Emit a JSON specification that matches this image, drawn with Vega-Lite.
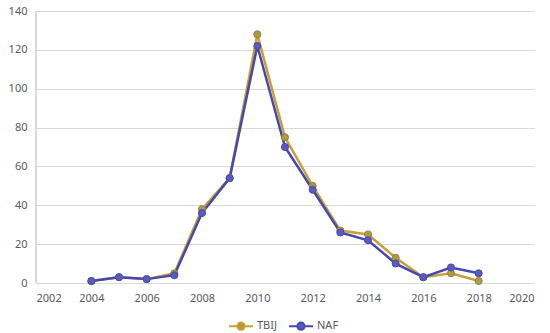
{
  "$schema": "https://vega.github.io/schema/vega-lite/v6.json",
  "autosize": "none",
  "width": 498,
  "height": 272,
  "padding": {"left": 36, "top": 11, "right": 16, "bottom": 50},
  "background": "white",
  "config": {
    "view": {"stroke": null},
    "font": "Noto Sans",
    "axis": {"labelFont": "Noto Sans", "labelFontSize": 11, "labelColor": "#595959", "ticks": false, "domain": false, "gridColor": "#d9d9d9", "gridWidth": 1}
  },
  "data": {"values": [
    {"year": 2004, "series": "TBIJ", "value": 1},
    {"year": 2005, "series": "TBIJ", "value": 3},
    {"year": 2006, "series": "TBIJ", "value": 2},
    {"year": 2007, "series": "TBIJ", "value": 5},
    {"year": 2008, "series": "TBIJ", "value": 38},
    {"year": 2009, "series": "TBIJ", "value": 54},
    {"year": 2010, "series": "TBIJ", "value": 128},
    {"year": 2011, "series": "TBIJ", "value": 75},
    {"year": 2012, "series": "TBIJ", "value": 50},
    {"year": 2013, "series": "TBIJ", "value": 27},
    {"year": 2014, "series": "TBIJ", "value": 25},
    {"year": 2015, "series": "TBIJ", "value": 13},
    {"year": 2016, "series": "TBIJ", "value": 3},
    {"year": 2017, "series": "TBIJ", "value": 5},
    {"year": 2018, "series": "TBIJ", "value": 1},
    {"year": 2004, "series": "NAF", "value": 1},
    {"year": 2005, "series": "NAF", "value": 3},
    {"year": 2006, "series": "NAF", "value": 2},
    {"year": 2007, "series": "NAF", "value": 4},
    {"year": 2008, "series": "NAF", "value": 36},
    {"year": 2009, "series": "NAF", "value": 54},
    {"year": 2010, "series": "NAF", "value": 122},
    {"year": 2011, "series": "NAF", "value": 70},
    {"year": 2012, "series": "NAF", "value": 48},
    {"year": 2013, "series": "NAF", "value": 26},
    {"year": 2014, "series": "NAF", "value": 22},
    {"year": 2015, "series": "NAF", "value": 10},
    {"year": 2016, "series": "NAF", "value": 3},
    {"year": 2017, "series": "NAF", "value": 8},
    {"year": 2018, "series": "NAF", "value": 5}
  ]},
  "encoding": {
    "x": {"field": "year", "type": "quantitative", "scale": {"domain": [2002, 2020], "nice": false, "zero": false},
      "axis": {"title": null, "values": [2002, 2004, 2006, 2008, 2010, 2012, 2014, 2016, 2018, 2020], "format": "d", "grid": false, "labelPadding": 9}},
    "y": {"field": "value", "type": "quantitative", "scale": {"domain": [0, 140], "nice": false},
      "axis": {"title": null, "values": [0, 20, 40, 60, 80, 100, 120, 140], "labelPadding": 9}},
    "color": {"field": "series", "type": "nominal", "sort": ["TBIJ", "NAF"],
      "scale": {"domain": ["TBIJ", "NAF"], "range": ["#C9A033", "#4548B0"]},
      "legend": {"title": null, "orient": "none", "legendX": 192, "legendY": 302, "direction": "horizontal",
        "symbolType": "M-1,0H-0.3M0.3,0H1M-0.3,0A0.3,0.3 0 1,1 0.3,0A0.3,0.3 0 1,1 -0.3,0",
        "symbolSize": 576, "symbolStrokeWidth": 2, "labelFontSize": 11, "labelColor": "#595959", "labelOffset": 3, "columnPadding": 8}}
  },
  "layer": [
    {"mark": {"type": "rule", "color": "#d9d9d9", "strokeWidth": 1}, "encoding": {"x": {"datum": 2002, "type": "quantitative"}, "y": {"datum": 0, "type": "quantitative"}, "y2": {"datum": 140}, "color": {"value": "#d9d9d9"}}},
    {"mark": {"type": "line", "strokeWidth": 2.5}},
    {"mark": {"type": "point", "filled": true, "size": 50, "opacity": 1, "stroke": "#8a8a6a", "strokeWidth": 1},
      "encoding": {"fill": {"field": "series", "type": "nominal", "scale": {"domain": ["TBIJ", "NAF"], "range": ["#B09A3A", "#5A5AC2"]}, "legend": null},
        "stroke": {"field": "series", "type": "nominal", "scale": {"domain": ["TBIJ", "NAF"], "range": ["#8C8350", "#4A4AA8"]}, "legend": null}}}
  ]
}
